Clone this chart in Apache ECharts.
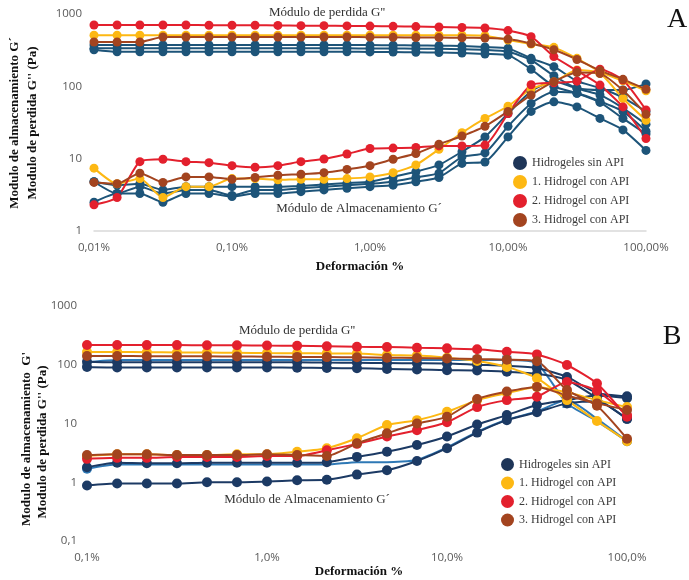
<!DOCTYPE html>
<html>
<head>
<meta charset="utf-8">
<script src="https://cdn.jsdelivr.net/npm/echarts/dist/echarts.min.js"></script>
<style>
  html, body { margin: 0; padding: 0; background: #ffffff; }
  #chart { width: 689px; height: 580px; }
</style>
</head>
<body>
<div id="chart"></div>
<script>
// ---- Strain sweep points (%) ----
const strainA = [0.01, 0.0147, 0.0215, 0.0316, 0.0464, 0.0681, 0.1, 0.147, 0.215, 0.316, 0.464, 0.681,
                 1, 1.47, 2.15, 3.16, 4.64, 6.81, 10, 14.7, 21.5, 31.6, 46.4, 68.1, 100];
const strainB = [0.1, 0.147, 0.215, 0.316, 0.464, 0.681, 1, 1.47, 2.15, 3.16, 4.64, 6.81,
                 10, 14.7, 21.5, 31.6, 46.4, 68.1, 100];

// ---- Tick labels ----
const xTicksA = ['0,01%', '0,10%', '1,00%', '10,00%', '100,00%'];
const yTicksA = ['1', '10', '100', '1000'];
const xTicksB = ['0,1%', '1,0%', '10,0%', '100,0%'];
const yTicksB = ['0,1', '1', '10', '100', '1000'];

// ---- Legend names ----
const names = ['Hidrogeles sin API', '1. Hidrogel con API', '2. Hidrogel con API', '3. Hidrogel con API'];

// ---- Panel A: G'' (loss) and G' (storage), Pa ----
const blueA1_loss = [373, 373, 373, 373, 373, 373, 373, 373, 373, 373, 373, 373, 372, 370, 368, 365, 360, 350, 335, 244, 187, 118, 95, 70, 45];
const blueA2_loss = [335, 335, 335, 335, 335, 335, 335, 335, 335, 335, 335, 335, 334, 333, 332, 330, 325, 318, 300, 231, 140, 94, 76, 50, 30];
const blueA3_loss = [320, 300, 300, 300, 300, 300, 300, 300, 300, 300, 300, 300, 299, 298, 296, 293, 288, 280, 270, 172, 100, 80, 60, 36, 22];
const blueA1_stor = [4.8, 4.3, 4.5, 3.7, 4.1, 4.1, 4.1, 4.1, 4.1, 4.2, 4.4, 4.6, 4.8, 5.6, 6.6, 8.2, 12.5, 20, 42, 85, 118, 94, 89, 89, 108];
const blueA2_stor = [4.8, 3.3, 4.1, 3.3, 3.7, 3.7, 3.1, 3.7, 3.7, 3.9, 4.1, 4.3, 4.5, 4.8, 5.5, 6.3, 10.6, 12, 28, 58, 84, 80, 62, 45, 24];
const blueA3_stor = [2.5, 3.3, 3.3, 2.5, 3.3, 3.3, 3.0, 3.3, 3.3, 3.5, 3.7, 3.9, 4.1, 4.3, 4.8, 5.5, 8.6, 9, 20, 45, 61, 52, 36, 25, 13];

const yellowA_loss = [510, 510, 510, 510, 510, 510, 510, 510, 510, 510, 510, 510, 510, 510, 510, 510, 508, 500, 437, 385, 346, 244, 159, 119, 87];
const yellowA_stor = [7.4, 4.5, 5.3, 2.9, 4.1, 4.1, 5.3, 5.3, 5.1, 5.2, 5.2, 5.3, 5.6, 6.4, 8.2, 13.5, 22.8, 36, 53, 92, 115, 168, 151, 68, 34];

const redA_loss = [705, 705, 705, 705, 705, 700, 700, 700, 695, 690, 690, 685, 680, 675, 670, 660, 650, 640, 590, 485, 258, 165, 104, 52, 19];
const redA_stor = [2.3, 2.9, 9.1, 9.8, 9.1, 8.8, 8.0, 7.6, 8.0, 9.1, 9.9, 11.6, 13.8, 14, 14.3, 15, 15, 15.4, 42, 105, 112, 118, 172, 122, 47];

const brownA_loss = [410, 410, 410, 480, 480, 480, 480, 480, 480, 480, 480, 480, 478, 476, 474, 472, 470, 465, 450, 390, 320, 235, 165, 125, 91];
const brownA_stor = [4.7, 4.5, 6.3, 4.7, 5.6, 5.6, 5.2, 5.5, 5.9, 6.1, 6.4, 7.1, 8.0, 9.8, 11.8, 15.8, 20.6, 28, 45, 76, 116, 155, 150, 88, 41];

// ---- Panel B: G'' (loss) and G' (storage), Pa ----
const blueB1_loss = [112, 110, 110, 110, 110, 110, 110, 110, 109, 108, 107, 106, 105, 100, 96, 88, 62, 33, 29];
const blueB2_loss = [92, 90, 90, 90, 90, 90, 90, 89, 88, 87, 85, 83, 81, 80, 76, 70, 55, 27, 12];
const blueB3_loss = [110, 120, 120, 120, 120, 120, 120, 120, 120, 120, 120, 120, 120, 120, 120, 105, 22, 11, 5];
const blueB1_stor = [1.8, 2.14, 2.1, 2.1, 2.14, 2.14, 2.14, 2.14, 2.2, 2.7, 3.3, 4.3, 6.0, 9.6, 13.9, 20.6, 25, 30, 27];
const blueB2_stor = [0.88, 0.95, 0.95, 0.95, 1.0, 1.0, 1.03, 1.08, 1.1, 1.35, 1.6, 2.3, 3.8, 7.0, 11.4, 15.5, 22, 24, 12];
const blueB3_stor = [1.7, 2.0, 2.0, 2.0, 2.0, 2.0, 2.0, 2.0, 2.0, 2.2, 2.2, 2.4, 3.9, 7.2, 11.6, 16, 25, 12, 5];

const yellowB_loss = [165, 165, 163, 162, 161, 160, 158, 157, 156, 156, 146, 143, 132, 116, 92, 59, 25, 11, 5];
const yellowB_stor = [2.8, 3.0, 3.0, 2.9, 2.9, 3.0, 3.0, 3.3, 3.8, 5.6, 9.4, 11.4, 15.8, 25, 33, 42, 34, 25, 19];

const redB_loss = [217, 217, 216, 216, 215, 214, 212, 210, 206, 202, 200, 195, 190, 183, 166, 150, 99, 48, 13];
const redB_stor = [2.5, 2.6, 2.6, 2.7, 2.7, 2.7, 2.8, 2.8, 3.5, 4.5, 6.0, 7.7, 10.5, 19, 25, 28.5, 51, 36, 14];

const brownB_loss = [141, 141, 140, 140, 139, 138, 137, 136, 135, 134, 132, 130, 128, 125, 122, 115, 37, 20, 5.5];
const brownB_stor = [2.9, 3.0, 3.0, 2.9, 2.9, 2.9, 3.0, 2.9, 2.8, 4.6, 6.8, 10, 13, 26, 35, 42, 30, 22, 17];

// Points of the light-blue replicate in B that carry a square marker
const squaresB_loss = [13, 14, 15, 16];
const squaresB_stor = [0, 18];

// ---- Colours ----
const C = {
  blueA: '#1d5479',
  navy: '#1c3a64',
  lightBlue: '#2e78b5',
  yellow: '#fdb813',
  red: '#e3202d',
  brown: '#a3441f',
  legendNavy: '#1e3558'
};

const SERIF = "'Liberation Serif', 'DejaVu Serif', serif";
const SANS = "'Open Sans', 'Liberation Sans', sans-serif";

function line(name, xs, ys, color, panel, symbol, size, markIdx) {
  const data = [];
  xs.forEach((x, i) => {
    if (ys[i] == null) return;
    if (markIdx) {
      data.push({ value: [x, ys[i]], symbol: markIdx.indexOf(i) >= 0 ? symbol : 'none' });
    } else {
      data.push([x, ys[i]]);
    }
  });
  return {
    name: name,
    type: 'line',
    xAxisIndex: panel,
    yAxisIndex: panel,
    data: data,
    smooth: 0.2,
    symbol: symbol,
    symbolSize: size,
    showAllSymbol: true,
    itemStyle: { color: color },
    lineStyle: { color: color, width: 2 },
    emphasis: { disabled: true },
    animation: false
  };
}

const series = [
  // Panel A
  line(names[0], strainA, blueA1_loss, C.blueA, 0, 'circle', 9),
  line(names[0], strainA, blueA2_loss, C.blueA, 0, 'circle', 9),
  line(names[0], strainA, blueA3_loss, C.blueA, 0, 'circle', 9),
  line(names[0], strainA, blueA1_stor, C.blueA, 0, 'circle', 9),
  line(names[0], strainA, blueA2_stor, C.blueA, 0, 'circle', 9),
  line(names[0], strainA, blueA3_stor, C.blueA, 0, 'circle', 9),
  line(names[1], strainA, yellowA_loss, C.yellow, 0, 'circle', 9),
  line(names[1], strainA, yellowA_stor, C.yellow, 0, 'circle', 9),
  line(names[2], strainA, redA_loss, C.red, 0, 'circle', 9),
  line(names[2], strainA, redA_stor, C.red, 0, 'circle', 9),
  line(names[3], strainA, brownA_loss, C.brown, 0, 'circle', 9),
  line(names[3], strainA, brownA_stor, C.brown, 0, 'circle', 9),
  // Panel B
  line(names[0], strainB, blueB3_loss, C.lightBlue, 1, 'rect', 9, squaresB_loss),
  line(names[0], strainB, blueB3_stor, C.lightBlue, 1, 'circle', 10, squaresB_stor),
  line(names[0], strainB, blueB1_loss, C.navy, 1, 'circle', 10),
  line(names[0], strainB, blueB2_loss, C.navy, 1, 'circle', 10),
  line(names[0], strainB, blueB1_stor, C.navy, 1, 'circle', 10),
  line(names[0], strainB, blueB2_stor, C.navy, 1, 'circle', 10),
  line(names[1], strainB, yellowB_loss, C.yellow, 1, 'circle', 10),
  line(names[1], strainB, yellowB_stor, C.yellow, 1, 'circle', 10),
  line(names[2], strainB, redB_loss, C.red, 1, 'circle', 10),
  line(names[2], strainB, redB_stor, C.red, 1, 'circle', 10),
  line(names[3], strainB, brownB_loss, C.brown, 1, 'circle', 10),
  line(names[3], strainB, brownB_stor, C.brown, 1, 'circle', 10)
];

const legendColors = [C.legendNavy, C.yellow, C.red, C.brown];
function legendData() {
  return names.map((n, i) => ({ name: n, itemStyle: { color: legendColors[i] } }));
}

function logLabel(ticks, offset) {
  return v => ticks[Math.round(Math.log10(v)) + offset];
}

const axisLabelStyle = { color: '#595959', fontSize: 11.5, fontFamily: SANS };

function txt(x, y, text, font, fill, rotation) {
  return {
    type: 'text', x: x, y: y, z: 10, rotation: rotation || 0,
    style: { text: text, font: font, fill: fill, align: 'center', verticalAlign: 'middle', textAlign: 'center', textVerticalAlign: 'middle' }
  };
}

const option = {
  backgroundColor: '#ffffff',
  animation: false,
  grid: [
    { left: 94, top: 14, width: 552, height: 217 },
    { left: 87, top: 306, width: 540, height: 235 }
  ],
  xAxis: [
    {
      type: 'log', logBase: 10, gridIndex: 0, min: 0.01, max: 100,
      axisLine: { show: true, lineStyle: { color: '#d9d9d9', width: 1.5 } },
      axisTick: { show: false }, splitLine: { show: false }, minorTick: { show: false },
      axisLabel: Object.assign({ margin: 11, formatter: logLabel(xTicksA, 2) }, axisLabelStyle)
    },
    {
      type: 'log', logBase: 10, gridIndex: 1, min: 0.1, max: 100,
      axisLine: { show: false },
      axisTick: { show: false }, splitLine: { show: false }, minorTick: { show: false },
      axisLabel: Object.assign({ margin: 11, formatter: logLabel(xTicksB, 1) }, axisLabelStyle)
    }
  ],
  yAxis: [
    {
      type: 'log', logBase: 10, gridIndex: 0, min: 1, max: 1000,
      axisLine: { show: false }, axisTick: { show: false },
      splitLine: { show: false }, minorTick: { show: false },
      axisLabel: Object.assign({ margin: 12, formatter: logLabel(yTicksA, 0) }, axisLabelStyle)
    },
    {
      type: 'log', logBase: 10, gridIndex: 1, min: 0.1, max: 1000,
      axisLine: { show: false }, axisTick: { show: false },
      splitLine: { show: false }, minorTick: { show: false },
      axisLabel: Object.assign({ margin: 10, formatter: logLabel(yTicksB, 1) }, axisLabelStyle)
    }
  ],
  legend: [
    {
      orient: 'vertical', left: 513, top: 156, padding: 0,
      icon: 'circle', itemWidth: 14, itemHeight: 14, itemGap: 5,
      textStyle: { fontFamily: SERIF, fontSize: 12, color: '#3a3a3a' },
      selectedMode: false,
      data: legendData()
    },
    {
      orient: 'vertical', left: 501, top: 458, padding: 0,
      icon: 'circle', itemWidth: 13, itemHeight: 13, itemGap: 5.5,
      textStyle: { fontFamily: SERIF, fontSize: 12, color: '#3a3a3a' },
      selectedMode: false,
      data: legendData()
    }
  ],
  graphic: [
    // Panel letters
    txt(677, 20, 'A', '28px ' + SERIF, '#111'),
    txt(672, 337, 'B', '28px ' + SERIF, '#111'),
    // Curve annotations
    txt(327, 13, "Módulo de perdida G''", '13px ' + SERIF, '#333'),
    txt(359, 209, 'Módulo de Almacenamiento G´', '13px ' + SERIF, '#333'),
    txt(297, 331, "Módulo de perdida G''", '13px ' + SERIF, '#333'),
    txt(307, 500, 'Módulo de Almacenamiento G´', '13px ' + SERIF, '#333'),
    // Axis titles
    txt(360, 267, 'Deformación %', 'bold 13px ' + SERIF, '#111'),
    txt(359, 572, 'Deformación %', 'bold 13px ' + SERIF, '#111'),
    txt(15, 123, 'Modulo de almacenamiento G´', 'bold 13px ' + SERIF, '#111', Math.PI / 2),
    txt(33, 123, "Modulo de perdida G'' (Pa)", 'bold 13px ' + SERIF, '#111', Math.PI / 2),
    txt(27, 439, "Modulo de almacenamiento  G'", 'bold 13px ' + SERIF, '#111', Math.PI / 2),
    txt(43, 442, "Modulo de perdida G'' (Pa)", 'bold 13px ' + SERIF, '#111', Math.PI / 2)
  ],
  series: series
};

const chart = echarts.init(document.getElementById('chart'), null, { renderer: 'canvas' });
chart.setOption(option);
</script>
</body>
</html>
